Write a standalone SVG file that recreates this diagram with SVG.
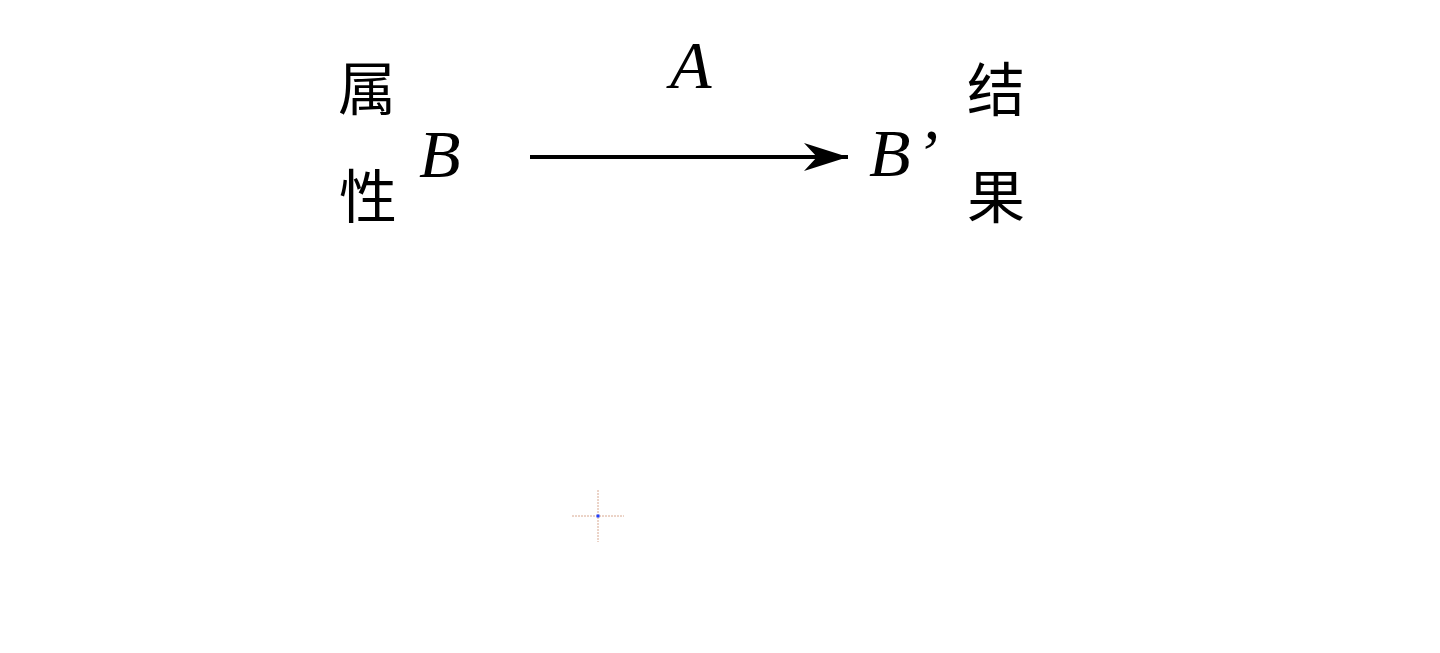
<svg xmlns="http://www.w3.org/2000/svg" width="1440" height="653" viewBox="0 0 1440 653">
<style>
.cjk{font-family:"Liberation Serif","Noto Sans CJK SC",serif;font-size:58px;fill:#000;text-anchor:middle}
.math{font-family:"Liberation Serif",serif;font-style:italic;font-size:68px;fill:#000}
.guide{stroke:#d8a890;stroke-width:1;stroke-dasharray:2 1}
</style>
<defs>
<marker id="arrow" markerUnits="userSpaceOnUse" markerWidth="46" markerHeight="30" refX="44" refY="14" orient="auto">
<path d="M0,0 L44,14 L0,28 L13,14 Z" fill="#000"/>
</marker>
</defs>
<rect width="1440" height="653" fill="#fff"/>
<g id="node-attr">
<text class="cjk" x="367" y="110">属</text>
<text class="cjk" x="368" y="218">性</text>
</g>
<g id="node-B">
<text class="math" x="419" y="177">B</text>
</g>
<g id="node-A">
<text class="math" x="670" y="88">A</text>
</g>
<g id="node-Bp">
<text class="math" x="869" y="176" letter-spacing="5">B’</text>
</g>
<g id="node-result">
<text class="cjk" x="996" y="111">结</text>
<text class="cjk" x="996" y="218">果</text>
</g>
<g id="connectors">
<line x1="530" y1="157" x2="848" y2="157" stroke="#000" stroke-width="4" marker-end="url(#arrow)"/>
</g>
<g id="crosshair">
<line class="guide" x1="572" y1="516" x2="624" y2="516"/>
<line class="guide" x1="598" y1="490" x2="598" y2="542"/>
<rect x="596.5" y="514.5" width="3" height="3" fill="#2040ff"/>
</g>
</svg>
